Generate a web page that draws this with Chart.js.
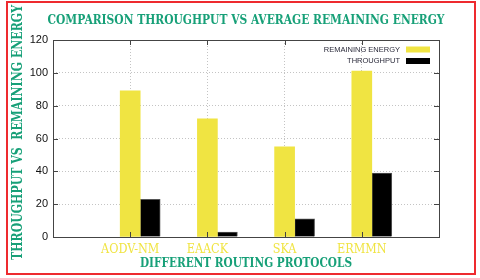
<!DOCTYPE html>
<html>
<head>
<meta charset="utf-8">
<script src="https://cdn.jsdelivr.net/npm/chart.js@4"></script>
<style>
  html, body { margin: 0; padding: 0; background: #fff; }
  #wrap { position: relative; width: 480px; height: 278px; }
  #border { position: absolute; left: 6px; top: 1px; width: 466px; height: 270px; border: 2px solid #ee2a2f; }
  canvas { position: absolute; left: 0; top: 0; }
</style>
</head>
<body>
<div id="wrap">
  <div id="border"></div>
  <canvas id="myChart" width="480" height="278"></canvas>
</div>
<script>
var protocols = ["AODV-NM", "EAACK", "SKA", "ERMMN"];
var remainingEnergy = [89, 72, 55, 101];
var throughput = [23, 3, 11, 39];
var yTicks = [0, 20, 40, 60, 80, 100, 120];

var chartTitle = 'COMPARISON THROUGHPUT VS AVERAGE REMAINING ENERGY';
var xTitle = 'DIFFERENT ROUTING PROTOCOLS';
var yTitle = 'THROUGHPUT VS  REMAINING ENERGY';

var green = '#17a078';
var yellow = '#f0e442';
var slab = '"DejaVu Serif Condensed", "DejaVu Serif", serif';

// gnuplot style: empty slot at both ends of the x range
var labels = [''].concat(protocols, ['']);
function pad(arr) { return [null].concat(arr, [null]); }

// text squeezed to a given width (the original font is a narrow slab serif)
function fitText(ctx, text, x, y, width, rot) {
  ctx.save();
  ctx.translate(x, y);
  if (rot) ctx.rotate(rot);
  var w = ctx.measureText(text).width;
  ctx.scale(width / w, 1);
  ctx.fillText(text, 0, 0);
  ctx.restore();
}

// frame, inward tick marks, titles and a legend inside the plot
var gnuplotBits = {
  id: 'gnuplotBits',
  afterDatasetsDraw: function(chart) {
    var ctx = chart.ctx;
    var a = chart.chartArea;
    var xs = chart.scales.x, ys = chart.scales.y;
    ctx.save();
    ctx.strokeStyle = '#444';
    ctx.lineWidth = 1;
    ctx.beginPath();
    yTicks.forEach(function(v) {
      var py = Math.round(ys.getPixelForValue(v)) + 0.5;
      ctx.moveTo(a.left, py); ctx.lineTo(a.left + 5, py);
      ctx.moveTo(a.right, py); ctx.lineTo(a.right - 5, py);
    });
    for (var i = 1; i <= protocols.length; i++) {
      var px = Math.round(xs.getPixelForValue(i)) + 0.5;
      ctx.moveTo(px, a.bottom); ctx.lineTo(px, a.bottom - 5);
      ctx.moveTo(px, a.top); ctx.lineTo(px, a.top + 5);
    }
    ctx.stroke();
    ctx.strokeRect(Math.round(a.left) + 0.5, Math.round(a.top) + 0.5,
                   Math.round(a.right - a.left), Math.round(a.bottom - a.top));

    // titles
    var cx = (a.left + a.right) / 2;
    ctx.fillStyle = green;
    ctx.textAlign = 'center';
    ctx.textBaseline = 'middle';
    ctx.font = 'bold 12.5px ' + slab;
    fitText(ctx, chartTitle, cx, 21, 397);
    fitText(ctx, xTitle, cx, 264, 212);
    ctx.font = 'bold 15px ' + slab;
    fitText(ctx, yTitle, 18.5, 132.5, 255, -Math.PI / 2);

    // legend
    ctx.font = '7.5px "Liberation Sans", Arial, sans-serif';
    ctx.textAlign = 'right';
    var row = 0;
    chart.data.datasets.forEach(function(ds) {
      if (!ds.label) return;
      var cy = a.top + 9.5 + row * 11.5;
      ctx.fillStyle = '#2a2a3a';
      ctx.fillText(ds.label, a.right - 39, cy);
      ctx.fillStyle = ds.backgroundColor;
      ctx.fillRect(a.right - 33, cy - 3, 24, 6);
      row++;
    });
    ctx.restore();
  }
};

new Chart(document.getElementById('myChart').getContext('2d'), {
  type: 'bar',
  data: {
    labels: labels,
    datasets: [
      { label: '', data: pad(protocols.map(function() { return null; })), backgroundColor: 'transparent' },
      { label: 'REMAINING ENERGY', data: pad(remainingEnergy), backgroundColor: yellow, borderWidth: 0 },
      { label: 'THROUGHPUT', data: pad(throughput), backgroundColor: '#000', borderColor: '#555', borderWidth: 1 }
    ]
  },
  plugins: [gnuplotBits],
  options: {
    responsive: false,
    animation: false,
    devicePixelRatio: 1,
    barThickness: 20,
    layout: { padding: { left: 29, right: 41, top: 40, bottom: 16 } },
    plugins: {
      legend: { display: false },
      tooltip: { enabled: false }
    },
    scales: {
      x: {
        offset: false,
        grid: {
          offset: false,
          drawTicks: false,
          color: function(c) { return (c.index === 0 || c.index === labels.length - 1) ? 'transparent' : '#c4c4c4'; }
        },
        border: { display: false, dash: [1, 2] },
        ticks: { color: yellow, font: { family: slab, size: 12.5 }, padding: 5, maxRotation: 0, autoSkip: false }
      },
      y: {
        min: 0,
        max: 120,
        afterBuildTicks: function(s) { s.ticks = yTicks.map(function(v) { return { value: v }; }); },
        afterFit: function(s) { s.width = 24; },
        grid: {
          drawTicks: false,
          color: function(c) { return (c.tick.value === 0 || c.tick.value === 120) ? 'transparent' : '#c4c4c4'; }
        },
        border: { display: false, dash: [1, 2] },
        ticks: { color: '#111', font: { family: '"Liberation Sans", Arial, sans-serif', size: 11 }, padding: 5 }
      }
    }
  }
});
</script>
</body>
</html>
